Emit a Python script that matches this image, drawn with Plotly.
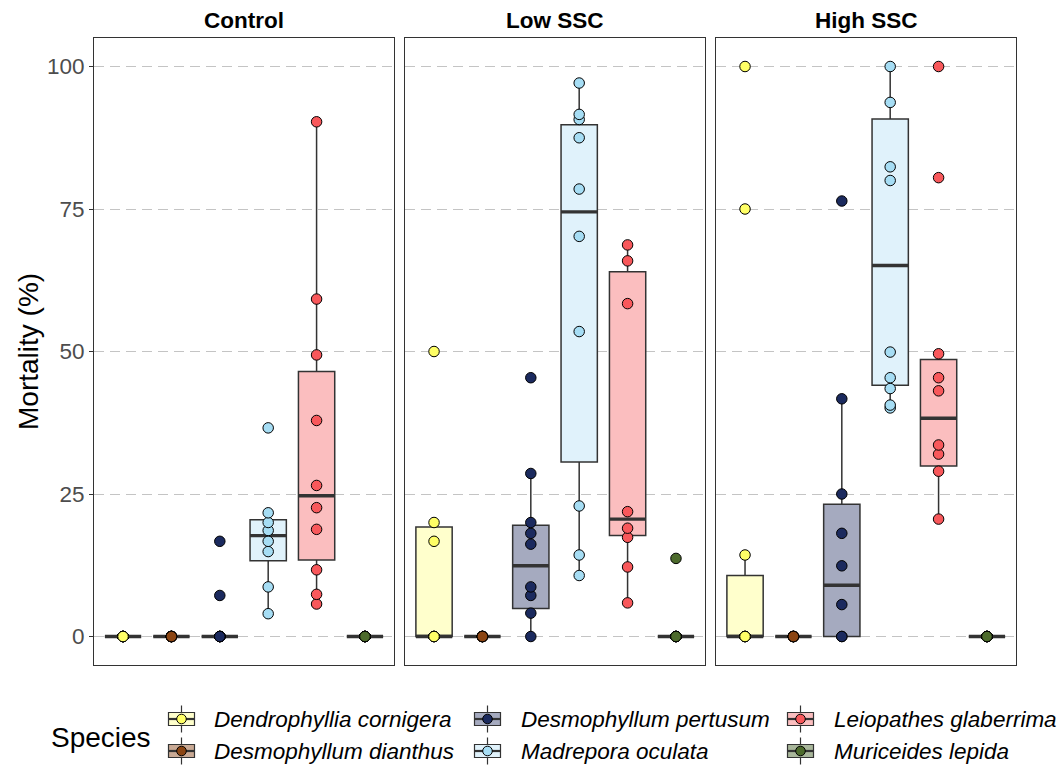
import plotly.graph_objects as go

# ---- data -------------------------------------------------------------
species = [
    "Dendrophyllia cornigera",
    "Desmophyllum dianthus",
    "Desmophyllum pertusum",
    "Madrepora oculata",
    "Leiopathes glaberrima",
    "Muriceides lepida",
]
treatments = ["Control", "Low SSC", "High SSC"]

point_colors = ["#FFFF66", "#8B4513", "#1B2A5E", "#A6DDF4", "#F8585B", "#4D6B2C"]
box_fills = ["#FFFFCC", "#C9A994", "#A5AABF", "#E0F2FB", "#FBBEBF", "#A8B69A"]

# mortality (%) per replicate, one list per species
control_pts = [
    [0, 0, 0, 0, 0, 0, 0, 0, 0],
    [0, 0, 0, 0, 0, 0, 0, 0, 0],
    [0, 0, 0, 0, 0, 0, 0, 7.2, 16.7],
    [4.0, 8.7, 14.9, 16.7, 18.6, 20.0, 21.7, 36.6],
    [5.7, 7.4, 11.7, 18.8, 22.6, 26.5, 37.9, 49.4, 59.2, 90.3],
    [0, 0, 0, 0, 0, 0, 0, 0, 0],
]
low_pts = [
    [0, 0, 0, 0, 0, 16.7, 20.0, 50.0],
    [0, 0, 0, 0, 0, 0, 0, 0],
    [0, 4.1, 7.2, 8.7, 16.2, 18.1, 20.0, 28.6, 45.4],
    [10.7, 14.3, 22.9, 53.5, 70.2, 78.5, 87.5, 90.7, 91.6, 97.1],
    [5.9, 12.2, 17.4, 19.0, 21.9, 58.4, 65.9, 68.7],
    [0, 0, 0, 0, 0, 0, 0, 13.7],
]
high_pts = [
    [0, 0, 0, 0, 0, 14.3, 75.0, 100.0],
    [0, 0, 0, 0, 0, 0, 0, 0],
    [0, 0, 5.6, 12.4, 18.1, 25.0, 41.7, 76.4],
    [40.1, 40.6, 43.5, 45.4, 49.9, 80.0, 82.4, 93.7, 100.0],
    [20.6, 29.0, 32.0, 33.6, 43.1, 45.4, 49.6, 80.5, 100.0],
    [0, 0, 0, 0, 0, 0, 0, 0],
]

# box statistics (lower hinge, median, upper hinge) per species
control_q1 = [0, 0, 0, 13.3, 13.4, 0]
control_med = [0, 0, 0, 17.7, 24.7, 0]
control_q3 = [0, 0, 0, 20.5, 46.5, 0]
low_q1 = [0, 0, 4.9, 30.6, 17.7, 0]
low_med = [0, 0, 12.4, 74.5, 20.6, 0]
low_q3 = [19.2, 0, 19.5, 89.8, 64.0, 0]
high_q1 = [0, 0, 0, 44.1, 29.9, 0]
high_med = [0, 0, 9.0, 65.1, 38.3, 0]
high_q3 = [10.7, 0, 23.2, 90.8, 48.6, 0]

y_ticks = [0, 25, 50, 75, 100]

panels = [
    (control_pts, control_q1, control_med, control_q3),
    (low_pts, low_q1, low_med, low_q3),
    (high_pts, high_q1, high_med, high_q3),
]

# ---- layout helpers ---------------------------------------------------
W, H = 1064, 769
FONT = "Liberation Sans, Arial, sans-serif"
EDGE = "#333333"
BASE = 28          # title size; other text is 0.8 of it
SMALL = 22.5


def px(x):
    return x / W


def py(y):
    return 1 - y / H


panel_px = [(94, 394), (405, 705), (716, 1016)]
panel_top, panel_bottom = 38, 665
BOX_W = 0.75


def whiskers(vals, q1, q3):
    iqr = q3 - q1
    lo_lim, hi_lim = q1 - 1.5 * iqr, q3 + 1.5 * iqr
    inside = [v for v in vals if lo_lim <= v <= hi_lim]
    return min(inside), max(inside)


fig = go.Figure()

box_traces, median_traces, point_traces = [], [], []
for p, (pts, q1s, meds, q3s) in enumerate(panels):
    xa = "x" if p == 0 else f"x{p + 1}"
    ya = "y" if p == 0 else f"y{p + 1}"
    for i, sp in enumerate(species):
        pos = i + 1
        lo, hi = whiskers(pts[i], q1s[i], q3s[i])
        box_traces.append(go.Box(
            x=[pos], q1=[q1s[i]], median=[meds[i]], q3=[q3s[i]],
            lowerfence=[lo], upperfence=[hi],
            width=BOX_W, whiskerwidth=0, boxpoints=False,
            fillcolor=box_fills[i], line=dict(color=EDGE, width=1.5),
            xaxis=xa, yaxis=ya, showlegend=False, hoverinfo="skip",
        ))
        median_traces.append(go.Scatter(
            x=[pos - BOX_W / 2, pos + BOX_W / 2], y=[meds[i], meds[i]],
            mode="lines", line=dict(color=EDGE, width=3.4),
            xaxis=xa, yaxis=ya, showlegend=False, hoverinfo="skip",
        ))
        point_traces.append(go.Scatter(
            x=[pos] * len(pts[i]), y=pts[i], mode="markers",
            marker=dict(size=10.5, color=point_colors[i],
                        line=dict(color="#000000", width=1)),
            xaxis=xa, yaxis=ya, showlegend=False, name=sp,
        ))

for t in box_traces + median_traces + point_traces:
    fig.add_trace(t)

y_dom = [py(panel_bottom), py(panel_top)]
layout_axes = {}
for p, (x0, x1) in enumerate(panel_px):
    sfx = "" if p == 0 else str(p + 1)
    layout_axes[f"xaxis{sfx}"] = dict(
        domain=[px(x0), px(x1)], range=[0.4, 6.6], anchor=f"y{sfx}",
        showticklabels=False, ticks="", showgrid=False, zeroline=False,
        showline=True, mirror=True, linecolor=EDGE, linewidth=1,
        fixedrange=True,
    )
    layout_axes[f"yaxis{sfx}"] = dict(
        domain=y_dom, range=[-5, 105], anchor=f"x{sfx}",
        tickvals=y_ticks, ticktext=[str(v) for v in y_ticks],
        showticklabels=(p == 0), ticks="outside" if p == 0 else "",
        ticklen=4, tickcolor=EDGE, tickwidth=1,
        tickfont=dict(family=FONT, size=SMALL, color="#4D4D4D"),
        showgrid=True, gridcolor="#C4C4C4", gridwidth=1.4,
        griddash="10px,6px",
        zeroline=False, showline=True, mirror=True, linecolor=EDGE,
        linewidth=1, fixedrange=True,
    )

annotations = []
# facet titles
for (x0, x1), name in zip(panel_px, treatments):
    annotations.append(dict(
        x=px((x0 + x1) / 2), y=py(20), xref="paper", yref="paper",
        text=f"<b>{name}</b>", showarrow=False,
        font=dict(family=FONT, size=SMALL, color="#000000"),
        xanchor="center", yanchor="middle",
    ))
# y-axis title
annotations.append(dict(
    x=px(28), y=py(352), xref="paper", yref="paper", text="Mortality (%)",
    textangle=-90, showarrow=False,
    font=dict(family=FONT, size=BASE, color="#000000"),
    xanchor="center", yanchor="middle",
))
# legend title
annotations.append(dict(
    x=px(49), y=py(737), xref="paper", yref="paper", text="Species",
    showarrow=False, font=dict(family=FONT, size=BASE, color="#000000"),
    xanchor="left", yanchor="middle",
))

# legend keys (box glyph with a point), filled column by column
shapes = []
key_cx = [181.5, 487.5, 800.5]
text_x = [212, 519, 832]
row_y = [719, 751]
for i, sp in enumerate(species):
    col, row = i // 2, i % 2
    cx, cy = key_cx[col], row_y[row]
    shapes.append(dict(type="line", xref="paper", yref="paper",
                       x0=px(cx), x1=px(cx), y0=py(cy - 13.5), y1=py(cy + 13.5),
                       line=dict(color=EDGE, width=1.2)))
    shapes.append(dict(type="rect", xref="paper", yref="paper",
                       x0=px(cx - 13), x1=px(cx + 13),
                       y0=py(cy + 6.5), y1=py(cy - 6.5),
                       fillcolor=box_fills[i], line=dict(color=EDGE, width=1.2)))
    shapes.append(dict(type="line", xref="paper", yref="paper",
                       x0=px(cx - 13), x1=px(cx + 13), y0=py(cy), y1=py(cy),
                       line=dict(color=EDGE, width=2.2)))
    shapes.append(dict(type="circle", xref="paper", yref="paper",
                       x0=px(cx - 4.8), x1=px(cx + 4.8),
                       y0=py(cy + 4.8), y1=py(cy - 4.8),
                       fillcolor=point_colors[i],
                       line=dict(color="#000000", width=1)))
    annotations.append(dict(
        x=px(text_x[col]), y=py(cy), xref="paper", yref="paper",
        text=f"<i>{sp}</i>", showarrow=False,
        font=dict(family=FONT, size=SMALL, color="#000000"),
        xanchor="left", yanchor="middle",
    ))

fig.update_layout(
    width=W, height=H,
    margin=dict(l=0, r=0, t=0, b=0),
    paper_bgcolor="#FFFFFF", plot_bgcolor="#FFFFFF",
    showlegend=False,
    annotations=annotations, shapes=shapes,
    font=dict(family=FONT),
    **layout_axes,
)

fig.write_html("out.html")
